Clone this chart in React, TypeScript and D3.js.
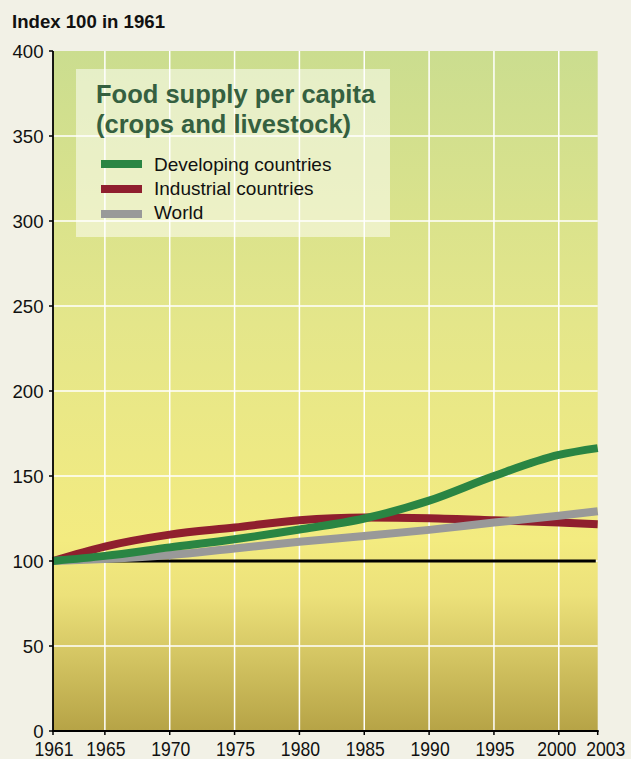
import React from "react";
import * as d3 from "d3";

const years = [1961, 1965, 1970, 1975, 1980, 1985, 1990, 1995, 2000, 2003];
const developing = [100, 103, 108, 112.8, 118.5, 125, 135.5, 150, 162.4, 166.4];
const industrial = [100, 108.5, 115.5, 119.7, 124, 125.6, 125.2, 124, 122.6, 121.6];
const world = [100, 101.2, 103.5, 107.4, 111.3, 114.7, 118.3, 122.6, 126.6, 129.3];

const xTicks = [1961, 1965, 1970, 1975, 1980, 1985, 1990, 1995, 2000, 2003];
const xGrid = [1965, 1970, 1975, 1980, 1985, 1990, 1995, 2000];
const yTicks = [0, 50, 100, 150, 200, 250, 300, 350, 400];
const yGrid = [50, 100, 150, 200, 250, 300, 350];

const seriesNames = ["Developing countries", "Industrial countries", "World"];
const seriesColors = ["#2a8543", "#8f1f2e", "#999999"];

const W = 631;
const H = 759;
const FONT = "'Liberation Sans', Arial, Helvetica, sans-serif";

export default function App() {
  const x = d3.scaleLinear().domain([1961, 2003]).range([53, 597.7]);
  const y = d3.scaleLinear().domain([0, 400]).range([731, 51]);

  const line = d3
    .line<[number, number]>()
    .x((d) => x(d[0]))
    .y((d) => y(d[1]))
    .curve(d3.curveMonotoneX);

  const seriesData = [developing, industrial, world];
  const paths = seriesData.map((s) => line(years.map((yr, i) => [yr, s[i]] as [number, number])) || "");
  // draw order: industrial, world, developing
  const order = [1, 2, 0];

  const x0 = x(1961);
  const x1 = x(2003);
  const yTop = y(400);
  const yBot = y(0);

  const labelShift = (v: number) => (v === 2003 ? 8 : v === 2000 ? -2 : 1);

  return (
    <svg
      width={W}
      height={H}
      style={{ position: "absolute", left: 0, top: 0, display: "block" }}
      fontFamily={FONT}
    >
      <defs>
        <linearGradient id="bg" x1="0" y1="0" x2="0" y2="1">
          <stop offset="0%" stopColor="#cbdd8f" />
          <stop offset="40%" stopColor="#e4e68a" />
          <stop offset="72%" stopColor="#f3eb80" />
          <stop offset="80%" stopColor="#ece17a" />
          <stop offset="100%" stopColor="#b6a346" />
        </linearGradient>
      </defs>
      <rect x={0} y={0} width={W} height={H} fill="#f2f1e6" />
      <text x={12} y={28} fontSize={18.6} fontWeight="bold" fill="#111">
        Index 100 in 1961
      </text>

      <rect x={x0} y={yTop} width={x1 - x0} height={yBot - yTop} fill="url(#bg)" />

      {xGrid.map((v) => (
        <line key={"xg" + v} x1={x(v)} x2={x(v)} y1={yTop} y2={yBot} stroke="#ffffff" strokeWidth={1.5} />
      ))}
      {yGrid.map((v) => (
        <line key={"yg" + v} x1={x0} x2={x1} y1={y(v)} y2={y(v)} stroke="#ffffff" strokeWidth={1.5} />
      ))}

      {/* legend box */}
      <rect x={76} y={69} width={314} height={168} fill="#ffffff" fillOpacity={0.5} />
      <text x={96} y={103} fontSize={25.5} fontWeight="bold" fill="#356040">
        Food supply per capita
      </text>
      <text x={96} y={133} fontSize={25.5} fontWeight="bold" fill="#356040">
        (crops and livestock)
      </text>
      {seriesNames.map((name, i) => (
        <g key={name}>
          <line
            x1={101}
            x2={142}
            y1={164 + i * 25}
            y2={164 + i * 25}
            stroke={seriesColors[i]}
            strokeWidth={8}
          />
          <text x={154} y={171 + i * 24.2} fontSize={19} fill="#111">
            {name}
          </text>
        </g>
      ))}

      {/* reference line at 100 */}
      <line x1={x0} x2={x(2002.85)} y1={y(100)} y2={y(100)} stroke="#000" strokeWidth={2.8} />

      {order.map((i) => (
        <path key={"s" + i} d={paths[i]} fill="none" stroke={seriesColors[i]} strokeWidth={8} />
      ))}

      {/* axes */}
      <line x1={x0} x2={x0} y1={yTop} y2={yBot + 1} stroke="#000" strokeWidth={1.8} />
      <line x1={x0 - 1} x2={x1 + 1} y1={yBot} y2={yBot} stroke="#000" strokeWidth={1.8} />
      {yTicks.map((v) => (
        <g key={"yt" + v}>
          <line x1={x0 - 4} x2={x0} y1={y(v)} y2={y(v)} stroke="#000" strokeWidth={1.5} />
          <text x={43.5} y={y(v)} dy="0.36em" textAnchor="end" fontSize={18.6} fill="#111">
            {v}
          </text>
        </g>
      ))}
      {xTicks.map((v) => (
        <g key={"xt" + v}>
          <line x1={x(v)} x2={x(v)} y1={yBot} y2={yBot + 4} stroke="#000" strokeWidth={1.5} />
          <g transform={`translate(${x(v) + labelShift(v)},756) scale(1,1.12)`}>
            <text x={0} y={0} textAnchor="middle" fontSize={17.6} fill="#111">
              {v}
            </text>
          </g>
        </g>
      ))}
    </svg>
  );
}
